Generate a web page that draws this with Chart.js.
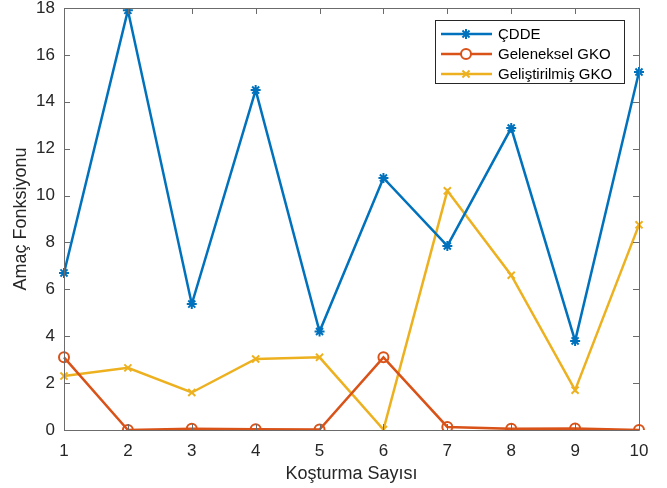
<!DOCTYPE html>
<html>
<head>
<meta charset="utf-8">
<script src="https://cdn.jsdelivr.net/npm/chart.js@4"></script>
<style>
  html, body { margin: 0; padding: 0; background: #fff; }
  #wrap { width: 667px; height: 488px; position: relative; }
</style>
</head>
<body>
<div id="wrap"><canvas id="chart"></canvas></div>
<script>
const runs = ["1", "2", "3", "4", "5", "6", "7", "8", "9", "10"]
const cdde = [6.7, 17.9, 5.37, 14.5, 4.2, 10.75, 7.85, 12.88, 3.8, 15.27]
const gelenekselGko = [3.1, 0.0, 0.05, 0.03, 0.02, 3.1, 0.13, 0.05, 0.06, 0.0]
const gelistirilmisGko = [2.3, 2.65, 1.6, 3.03, 3.1, 0.02, 10.2, 6.6, 1.7, 8.75]
const yTicks = [0, 2, 4, 6, 8, 10, 12, 14, 16, 18]

const axisColor = "#262626"
const lineColor = "#6b6b6b"
const font = "'Liberation Sans', Arial, sans-serif"

// MATLAB style box with inward ticks
const boxTicks = {
  id: "boxTicks",
  afterDraw(chart) {
    const { ctx, chartArea: a, scales } = chart
    ctx.save()
    ctx.strokeStyle = lineColor
    ctx.lineWidth = 1
    ctx.beginPath()
    ctx.rect(a.left + 0.5, a.top + 0.5, a.right - a.left, a.bottom - a.top)
    yTicks.forEach(v => {
      const y = Math.round(scales.y.getPixelForValue(v)) + 0.5
      ctx.moveTo(a.left, y); ctx.lineTo(a.left + 6, y)
      ctx.moveTo(a.right, y); ctx.lineTo(a.right - 6, y)
    })
    runs.forEach((r, i) => {
      const x = Math.round(scales.x.getPixelForValue(i)) + 0.5
      ctx.moveTo(x, a.bottom); ctx.lineTo(x, a.bottom - 6)
      ctx.moveTo(x, a.top); ctx.lineTo(x, a.top + 6)
    })
    ctx.stroke()
    ctx.restore()
  }
}

// legend drawn like MATLAB's boxed legend
const boxLegend = {
  id: "boxLegend",
  afterDraw(chart) {
    const { ctx } = chart
    const x0 = 435, y0 = 20, w = 189, h = 63
    ctx.save()
    ctx.fillStyle = "#fff"
    ctx.fillRect(x0, y0, w, h)
    ctx.strokeStyle = axisColor
    ctx.lineWidth = 1
    ctx.strokeRect(x0 + 0.5, y0 + 0.5, w, h)
    chart.data.datasets.forEach((ds, i) => {
      const y = 34 + i * 20
      ctx.strokeStyle = ds.borderColor
      ctx.lineWidth = 2.5
      ctx.beginPath()
      ctx.moveTo(441, y); ctx.lineTo(492, y)
      ctx.stroke()
      ctx.fillStyle = "#fff"
      ctx.lineWidth = 2
      Chart.helpers.drawPoint(ctx, {
        pointStyle: ds.pointStyle, radius: ds.pointRadius, borderWidth: 2, rotation: 0
      }, 466, y)
      ctx.fillStyle = "#000"
      ctx.font = "15px " + font
      ctx.textBaseline = "middle"
      ctx.fillText(ds.label, 498, y + 1)
    })
    ctx.restore()
  }
}

function series(label, data, color, style, fill) {
  return {
    label,
    data,
    borderColor: color,
    backgroundColor: fill,
    borderWidth: 2.5,
    pointStyle: style,
    pointRadius: 5,
    pointBorderWidth: 2,
    pointBorderColor: color,
    pointBackgroundColor: fill,
    tension: 0
  }
}

new Chart(document.getElementById("chart"), {
  type: "line",
  data: {
    labels: runs,
    datasets: [
      series("ÇDDE", cdde, "#0072BD", "star", "#0072BD"),
      series("Geleneksel GKO", gelenekselGko, "#D95319", "circle", "rgba(0,0,0,0)"),
      series("Geliştirilmiş GKO", gelistirilmisGko, "#EDB120", "crossRot", "#EDB120")
    ]
  },
  options: {
    responsive: true,
    maintainAspectRatio: false,
    animation: false,
    layout: { padding: { top: 8, right: 28, left: 0, bottom: 0 } },
    plugins: {
      legend: { display: false },
      tooltip: { enabled: false }
    },
    scales: {
      x: {
        type: "category",
        offset: false,
        grid: { display: false, drawTicks: false },
        border: { display: false },
        ticks: {
          padding: 11,
          maxRotation: 0,
          autoSkip: false,
          color: axisColor,
          font: { family: font, size: 17 }
        },
        title: {
          display: true,
          text: "Koşturma Sayısı",
          color: axisColor,
          font: { family: font, size: 18 },
          padding: { top: 0, bottom: 3 }
        },
        afterFit: s => {
          s.height = 58
          s.paddingLeft = 0
          s.paddingRight = 0
        }
      },
      y: {
        min: 0,
        max: 18,
        grid: { display: false, drawTicks: false },
        border: { display: false },
        afterBuildTicks: s => { s.ticks = yTicks.map(v => ({ value: v })) },
        ticks: {
          padding: 9,
          color: axisColor,
          font: { family: font, size: 17 }
        },
        title: {
          display: true,
          text: "Amaç Fonksiyonu",
          color: axisColor,
          font: { family: font, size: 18 },
          padding: { top: 10, bottom: 0 }
        },
        afterFit: s => {
          s.width = 64
          s.paddingTop = 0
          s.paddingBottom = 0
        }
      }
    }
  },
  plugins: [boxTicks, boxLegend]
})
</script>
</body>
</html>
